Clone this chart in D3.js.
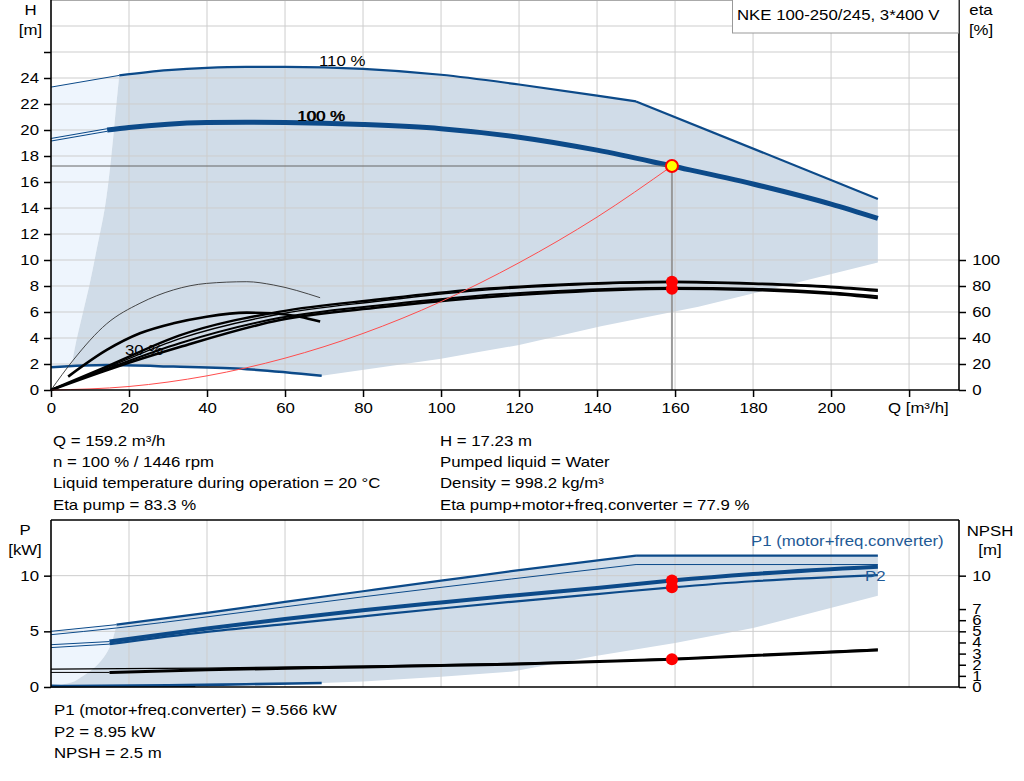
<!DOCTYPE html>
<html>
<head>
<meta charset="utf-8">
<title>Pump curve</title>
<script src="https://d3js.org/d3.v7.min.js"></script>
<style>
    body { margin: 0; background: #fff; }
    text { font-family: "Liberation Sans", Arial, sans-serif; font-size: 14px; }
</style>
</head>
<body>
<script>
    // ---- axes / ticks ----
    var qTicks = d3.range(0, 221, 20);
    var qLabels = d3.range(0, 201, 20);
    var hTicks = d3.range(0, 27, 2);
    var hLabels = d3.range(0, 25, 2);
    var hGrid = d3.range(2, 30, 2);
    var etaTicks = [0, 20, 40, 60, 80, 100];
    var pTicks = [0, 5, 10];
    var pGrid = [5, 10];
    var npshTicks = [0, 1, 2, 3, 4, 5, 6, 7, 10];

    // ---- head curves [Q, H] ----
    var h110Ext = [[0, 23.3], [17.5, 24.2]];
    var h110 = [[17.5, 24.2], [30, 24.6], [40, 24.78], [50, 24.85], [60, 24.85], [80, 24.7], [100, 24.25], [120, 23.5], [140, 22.65], [150, 22.2]];
    var h110Limit = [[150, 22.2], [212, 14.7]];
    var h100Ext = [[0, 19.25], [14.4, 20.0]];
    var h100 = [[14.4, 20.0], [20, 20.2], [30, 20.45], [40, 20.57], [50, 20.6], [60, 20.58], [80, 20.42], [100, 20.1], [120, 19.45], [140, 18.45], [159.2, 17.23], [180, 15.85], [200, 14.3], [212, 13.2]];
    var h30 = [[0, 1.75], [14.3, 1.92], [31.4, 1.8], [50.2, 1.6], [69.4, 1.1]];
    var sysCurve = [[0, 0], [20, 0.27], [40, 1.09], [60, 2.45], [80, 4.35], [100, 6.8], [120, 9.79], [140, 13.3], [159.2, 17.23]];

    // operating range outline [Q, H]
    var areaLowerH = [[212, 9.8], [166, 6.4], [141, 4.9], [120, 3.46], [110, 2.95], [100, 2.4], [69.4, 1.1], [50.2, 1.6], [31.4, 1.8], [14.3, 1.92], [5.3, 1.9]];
    var areaLeftH = [[5.3, 1.9], [6.5, 3.8], [7.9, 5.6], [9.8, 8], [11.7, 10.8], [13.8, 14], [15.3, 17.5], [16.6, 21.5], [17.5, 24.2]];

    // ---- efficiency curves [Q, eta %] ----
    var etaA = [[0, 0], [15, 19], [33, 42], [58.7, 60.3], [84.4, 69.8], [107.4, 77], [130, 81], [159.2, 83.3], [180, 82], [200, 79.5], [212, 77]];
    var etaB = [[0, 0], [15, 18], [33, 39.5], [58.7, 58.5], [84.4, 68.5], [107.4, 76], [130, 80.2], [159.2, 82.6], [180, 81.3], [200, 78.7], [212, 76]];
    var etaC = [[0, 0], [15, 17], [33, 36], [58.7, 55.5], [84.4, 65.2], [107.4, 72], [130, 76.2], [159.2, 78.6], [180, 77.9], [200, 75], [212, 72.2]];
    var etaD = [[0, 0], [15, 16], [33, 33], [58.7, 53.8], [84.4, 63.6], [107.4, 70.5], [130, 75], [159.2, 77.9], [180, 77], [200, 74], [212, 70.8]];
    var eta30 = [[4.4, 10.3], [14.3, 30.8], [22.8, 43.6], [31.4, 51.3], [39.9, 56.4], [50.2, 59.5], [57, 59], [63.8, 56.4], [69, 52.6]];
    var eta30Thin = [[0, 0], [5.7, 23], [14.3, 51], [22.8, 66.7], [31.4, 77], [39.9, 82], [50.2, 83.3], [57, 80.8], [69, 71]];

    // ---- power / NPSH curves [Q, kW or m] ----
    var p1_110Ext = [[0, 5.0], [16.8, 5.6]];
    var p1_110 = [[16.8, 5.6], [40, 6.65], [60, 7.65], [80, 8.6], [100, 9.55], [118, 10.4], [150, 11.8]];
    var p1_110Limit = [[150, 11.8], [212, 11.8]];
    var p2_110 = [[0, 4.7], [16.8, 5.3], [40, 6.3], [60, 7.2], [80, 8.1], [100, 8.95], [118, 9.7], [150, 11.0]];
    var p2_110Limit = [[150, 11.0], [212, 11.0]];
    var p1_100Ext = [[0, 3.8], [15, 4.08]];
    var p1_100 = [[15, 4.08], [40, 5.25], [60, 6.1], [80, 6.9], [100, 7.6], [118, 8.2], [140, 8.9], [159.2, 9.566], [180, 10.15], [212, 10.8]];
    var p2_100Ext = [[0, 3.54], [15, 3.85]];
    var p2_100 = [[15, 3.85], [40, 4.95], [60, 5.65], [80, 6.35], [100, 7.05], [118, 7.65], [140, 8.35], [159.2, 8.95], [180, 9.5], [212, 10.05]];
    var p30 = [[0, 0.1], [4.4, 0.09], [30, 0.15], [50, 0.25], [69.4, 0.36]];
    var npsh30 = [[0, 0.05], [20, 0.07], [37, 0.1]];
    var npsh100Ext = [[0, 1.31], [15, 1.31]];
    var npsh100 = [[15, 1.31], [40, 1.55], [80, 1.8], [118, 2.05], [159.2, 2.5], [212, 3.33]];
    var npsh110 = [[0, 1.6], [18, 1.65], [40, 1.7], [80, 1.88], [118, 2.12], [150, 2.42], [212, 3.4]];

    var areaLowerP = [[212, 8.2], [180, 5.3], [160, 3.96], [140, 2.8], [118, 1.38], [100, 0.93], [80, 0.5], [69.4, 0.36], [40, 0.2], [4.4, 0.09], [0.2, 0.03]];
    var areaLeftP = [[0.2, 0.03], [4.4, 0.33], [7.9, 0.93], [10.4, 1.53], [13, 2.43], [14.7, 3.33], [16, 4.5], [16.8, 5.6]];

    // ---- duty point ----
    var duty = [159.2, 17.23];
    var dutyEta = [83.3, 77.9];
    var dutyP = [9.566, 8.95];
    var dutyNpsh = [2.5];

    // ---- texts ----
    var title = 'NKE 100-250/245, 3*400 V';
    var infoLeft = ['Q = 159.2 m³/h', 'n = 100 % / 1446 rpm', 'Liquid temperature during operation = 20 °C', 'Eta pump = 83.3 %'];
    var infoRight = ['H = 17.23 m', 'Pumped liquid = Water', 'Density = 998.2 kg/m³', 'Eta pump+motor+freq.converter = 77.9 %'];
    var infoBottom = ['P1 (motor+freq.converter) = 9.566 kW', 'P2 = 8.95 kW', 'NPSH = 2.5 m'];

    var BLUE = '#0c4a89';
    var TEXT_BLUE = '#1f5a96';
    var SHADE = '#d0dce8';
    var LIGHT = '#eef5fd';
    var GRID = '#cdcdcd';
    var SX = 1.2; // the reference text is horizontally stretched

    var svg = d3.select('body').append('svg')
        .attr('width', 1024)
        .attr('height', 781)
        .style('display', 'block');

    var x = d3.scaleLinear().domain([0, 232.8]).range([51, 959]);
    var yH = d3.scaleLinear().domain([0, 30]).range([390, 0]);
    var yEta = d3.scaleLinear().domain([0, 100]).range([390, 260]);
    var yP = d3.scaleLinear().domain([0, 15]).range([687, 520]);
    var yN = yP.copy();

    function seg(pts, ys, curve) {
        return d3.line()
            .x(d => x(d[0]))
            .y(d => ys(d[1]))
            .curve(curve || d3.curveMonotoneX)(pts);
    }

    function joinPath(parts) {
        return parts.map((p, i) => i ? p.replace(/^M/, 'L') : p).join('') + 'Z';
    }

    function line(g, pts, ys, color, w, curve) {
        return g.append('path')
            .attr('d', seg(pts, ys, curve))
            .attr('fill', 'none')
            .attr('stroke', color)
            .attr('stroke-width', w);
    }

    function txt(g, tx, ty, s, anchor, color) {
        return g.append('text')
            .attr('transform', `translate(${tx},${ty}) scale(${SX},1)`)
            .attr('text-anchor', anchor || 'start')
            .attr('fill', color || '#000')
            .text(s);
    }

    function dot(g, cx, cy, fill, stroke) {
        g.append('circle')
            .attr('cx', cx).attr('cy', cy).attr('r', 6)
            .attr('fill', fill)
            .attr('stroke', stroke || 'none')
            .attr('stroke-width', 2);
    }

    function styleAxis(g) {
        g.attr('font-size', 14).attr('font-family', '"Liberation Sans", Arial, sans-serif');
        g.select('.domain').remove();
        g.selectAll('.tick line').attr('stroke', '#000').attr('stroke-width', 1.5);
        g.selectAll('.tick text').attr('transform', `scale(${SX},1)`);
    }

    // ================= top chart =================
    var gTop = svg.append('g');

    // light region left of the min-speed boundary
    gTop.append('path')
        .attr('d', joinPath([
            seg([[0, h30[0][1]], h110Ext[0]], yH, d3.curveLinear),
            seg(h110Ext, yH, d3.curveLinear),
            seg(areaLeftH.slice().reverse(), yH, d3.curveMonotoneY)
        ]))
        .attr('fill', LIGHT);

    // operating range
    gTop.append('path')
        .attr('d', joinPath([
            seg(h110, yH),
            seg(h110Limit, yH, d3.curveLinear),
            seg(areaLowerH, yH, d3.curveLinear),
            seg(areaLeftH, yH, d3.curveMonotoneY)
        ]))
        .attr('fill', SHADE);

    // grid
    gTop.selectAll('.vg').data(qTicks.slice(1)).join('line')
        .attr('x1', d => x(d)).attr('x2', d => x(d))
        .attr('y1', 0).attr('y2', 390)
        .attr('stroke', GRID);
    gTop.selectAll('.hg').data(hGrid).join('line')
        .attr('x1', 51).attr('x2', 959)
        .attr('y1', d => yH(d)).attr('y2', d => yH(d))
        .attr('stroke', GRID);

    // head curves
    line(gTop, h30, yH, BLUE, 2.5);
    line(gTop, h110Ext, yH, BLUE, 1, d3.curveLinear);
    line(gTop, h110, yH, BLUE, 2.2);
    line(gTop, h110Limit, yH, BLUE, 2.2, d3.curveLinear);
    line(gTop, h100Ext, yH, BLUE, 3.4, d3.curveLinear);
    line(gTop, h100Ext, yH, LIGHT, 1.3, d3.curveLinear);
    line(gTop, h100, yH, BLUE, 5);

    // efficiency curves
    line(gTop, eta30Thin, yEta, '#333', 0.9);
    line(gTop, eta30, yEta, '#000', 2.6);
    line(gTop, etaC, yEta, '#000', 2);
    line(gTop, etaD, yEta, '#000', 2.6);
    line(gTop, etaB, yEta, '#000', 1.4);
    line(gTop, etaA, yEta, '#000', 2.4);

    // system curve
    line(gTop, sysCurve, yH, '#ff4d4d', 1);

    // duty point cross lines
    gTop.append('line')
        .attr('x1', 51).attr('x2', x(duty[0]))
        .attr('y1', yH(duty[1])).attr('y2', yH(duty[1]))
        .attr('stroke', '#666').attr('stroke-width', 1);
    gTop.append('line')
        .attr('x1', x(duty[0])).attr('x2', x(duty[0]))
        .attr('y1', yH(duty[1])).attr('y2', 390)
        .attr('stroke', '#999').attr('stroke-width', 2);

    dutyEta.forEach(e => dot(gTop, x(duty[0]), yEta(e), '#ff0000'));
    dot(gTop, x(duty[0]), yH(duty[1]), '#ffff00', '#ff0000');

    // frame
    gTop.append('line').attr('x1', 51).attr('x2', 959).attr('y1', 0.5).attr('y2', 0.5).attr('stroke', '#aaa');
    gTop.append('line').attr('x1', 51).attr('x2', 51).attr('y1', 0).attr('y2', 390).attr('stroke', '#000').attr('stroke-width', 1.6);
    gTop.append('line').attr('x1', 959).attr('x2', 959).attr('y1', 0).attr('y2', 390).attr('stroke', '#000').attr('stroke-width', 1.6);
    gTop.append('line').attr('x1', 51).attr('x2', 959).attr('y1', 390).attr('y2', 390).attr('stroke', '#000').attr('stroke-width', 1.6);

    // axes
    gTop.append('g').attr('transform', 'translate(51,0)')
        .call(d3.axisLeft(yH).tickValues(hTicks).tickSize(7).tickSizeOuter(0).tickPadding(3)
            .tickFormat(d => hLabels.includes(d) ? d : ''))
        .call(styleAxis);
    gTop.append('g').attr('transform', 'translate(959,0)')
        .call(d3.axisRight(yEta).tickValues(etaTicks).tickSize(7).tickSizeOuter(0).tickPadding(4))
        .call(styleAxis);
    gTop.append('g').attr('transform', 'translate(0,390)')
        .call(d3.axisBottom(x).tickValues(qTicks).tickSize(7).tickSizeOuter(0).tickPadding(6)
            .tickFormat(d => qLabels.includes(d) ? d : ''))
        .call(styleAxis);

    // labels
    txt(gTop, 30.5, 15, 'H', 'middle');
    txt(gTop, 30.5, 34.5, '[m]', 'middle');
    txt(gTop, 981, 15, 'eta', 'middle');
    txt(gTop, 981, 34.5, '[%]', 'middle');
    txt(gTop, 888, 413, 'Q [m³/h]');
    txt(gTop, 319, 66, '110 %');
    txt(gTop, 297, 121, '100 %');
    txt(gTop, 297.8, 121, '100 %');
    txt(gTop, 125, 355, '30 %');

    gTop.append('rect')
        .attr('x', 732.5).attr('y', -0.5).attr('width', 226).attr('height', 33.5)
        .attr('fill', '#fff').attr('stroke', '#999');
    txt(gTop, 737, 19.5, title);

    // info block
    infoLeft.forEach((s, i) => txt(svg, 53, 445.7 + i * 21.3, s));
    infoRight.forEach((s, i) => txt(svg, 440, 445.7 + i * 21.3, s));

    // ================= bottom chart =================
    var gBot = svg.append('g');

    gBot.append('path')
        .attr('d', joinPath([
            seg([[0, 0], p1_110Ext[0]], yP, d3.curveLinear),
            seg(p1_110Ext, yP, d3.curveLinear),
            seg(areaLeftP.slice().reverse(), yP, d3.curveMonotoneY),
            seg([areaLeftP[0], [0, 0]], yP, d3.curveLinear)
        ]))
        .attr('fill', LIGHT);

    gBot.append('path')
        .attr('d', joinPath([
            seg(p1_110, yP),
            seg(p1_110Limit, yP, d3.curveLinear),
            seg(areaLowerP, yP, d3.curveLinear),
            seg(areaLeftP, yP, d3.curveMonotoneY)
        ]))
        .attr('fill', SHADE);

    gBot.selectAll('.vg').data(qTicks.slice(1)).join('line')
        .attr('x1', d => x(d)).attr('x2', d => x(d))
        .attr('y1', 520).attr('y2', 687)
        .attr('stroke', GRID);
    gBot.selectAll('.hg').data(pGrid).join('line')
        .attr('x1', 51).attr('x2', 959)
        .attr('y1', d => yP(d)).attr('y2', d => yP(d))
        .attr('stroke', GRID);

    line(gBot, npsh30, yN, '#000', 2);
    line(gBot, p30, yP, BLUE, 2.6);
    line(gBot, npsh110, yN, '#000', 1.3);
    line(gBot, npsh100Ext, yN, '#000', 1, d3.curveLinear);
    line(gBot, npsh100, yN, '#000', 3);
    line(gBot, p2_110, yP, BLUE, 1);
    line(gBot, p2_110Limit, yP, BLUE, 1, d3.curveLinear);
    line(gBot, p1_110Ext, yP, BLUE, 1, d3.curveLinear);
    line(gBot, p1_110, yP, BLUE, 2.2);
    line(gBot, p1_110Limit, yP, BLUE, 2.2, d3.curveLinear);
    line(gBot, p2_100Ext, yP, BLUE, 1, d3.curveLinear);
    line(gBot, p2_100, yP, BLUE, 2.2);
    line(gBot, p1_100Ext, yP, BLUE, 1, d3.curveLinear);
    line(gBot, p1_100, yP, BLUE, 4);

    dutyP.forEach(p => dot(gBot, x(duty[0]), yP(p), '#ff0000'));
    dutyNpsh.forEach(n => dot(gBot, x(duty[0]), yN(n), '#ff0000'));

    gBot.append('line').attr('x1', 51).attr('x2', 959).attr('y1', 520).attr('y2', 520).attr('stroke', '#000').attr('stroke-width', 1.6);
    gBot.append('line').attr('x1', 51).attr('x2', 51).attr('y1', 520).attr('y2', 687).attr('stroke', '#000').attr('stroke-width', 1.6);
    gBot.append('line').attr('x1', 959).attr('x2', 959).attr('y1', 520).attr('y2', 687).attr('stroke', '#000').attr('stroke-width', 1.6);
    gBot.append('line').attr('x1', 51).attr('x2', 959).attr('y1', 687).attr('y2', 687).attr('stroke', '#000').attr('stroke-width', 1.6);

    gBot.append('g').attr('transform', 'translate(51,0)')
        .call(d3.axisLeft(yP).tickValues(pTicks).tickSize(7).tickSizeOuter(0).tickPadding(3))
        .call(styleAxis);
    gBot.append('g').attr('transform', 'translate(959,0)')
        .call(d3.axisRight(yN).tickValues(npshTicks).tickSize(7).tickSizeOuter(0).tickPadding(4))
        .call(styleAxis);

    txt(gBot, 25, 535, 'P', 'middle');
    txt(gBot, 25, 554.5, '[kW]', 'middle');
    txt(gBot, 990, 536, 'NPSH', 'middle');
    txt(gBot, 990, 554.5, '[m]', 'middle');
    txt(gBot, 751, 546, 'P1 (motor+freq.converter)', 'start', TEXT_BLUE);
    txt(gBot, 865, 581, 'P2', 'start', TEXT_BLUE);

    infoBottom.forEach((s, i) => txt(svg, 54, 715 + i * 21.5, s));
</script>
</body>
</html>
